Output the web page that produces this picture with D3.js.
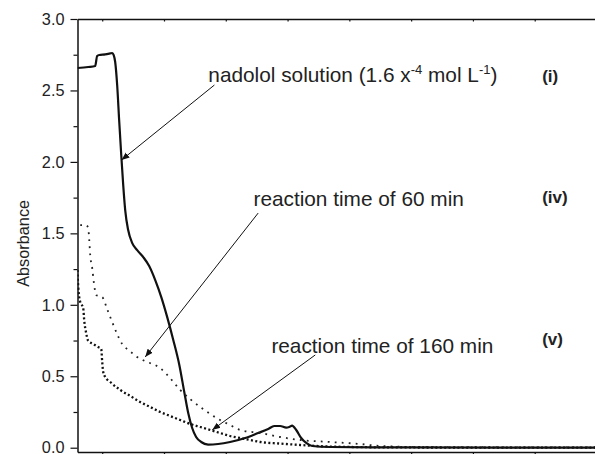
<!DOCTYPE html>
<html>
<head>
<meta charset="utf-8">
<script src="https://cdn.jsdelivr.net/npm/d3@7"></script>
<style>
  body { margin: 0; background: #fff; }
  svg { display: block; font-family: "Liberation Sans", Arial, sans-serif; }
  .tick text { fill: #222; }
</style>
</head>
<body>
<svg id="chart" width="595" height="454"></svg>
<script>
// Spectra: [wavelength (nm), absorbance]
const nadolol = [
  [230, 2.657], [238.7, 2.664], [244.3, 2.671], [245.9, 2.741], [247.6, 2.748],
  [252.4, 2.752], [256.5, 2.759], [258.1, 2.762], [259.3, 2.748], [260.5, 2.699],
  [262.1, 2.538], [263.7, 2.293], [265.4, 2.048], [267.0, 1.838], [268.6, 1.663],
  [271.0, 1.523], [274.3, 1.432], [278.3, 1.383], [283.2, 1.334], [288.0, 1.271],
  [292.9, 1.173], [297.8, 1.054], [302.6, 0.914], [307.5, 0.754], [312.4, 0.579],
  [316.4, 0.390], [319.6, 0.243], [322.8, 0.138], [326.0, 0.075], [330.1, 0.040],
  [335.7, 0.022], [343.8, 0.026], [353.5, 0.040], [365.7, 0.068], [376.2, 0.103],
  [384.3, 0.131], [389.2, 0.152], [394.0, 0.152], [398.9, 0.141], [401.3, 0.145],
  [403.7, 0.155], [407.0, 0.124], [411.0, 0.068], [415.1, 0.033], [419.9, 0.012],
  [434.5, 0.005], [491.1, 0.002], [650, 0.0]
];

const time60 = [
  [232.2, 1.558], [237.0, 1.558], [238.7, 1.537], [239.5, 1.453], [240.3, 1.348],
  [241.9, 1.257], [243.5, 1.138], [245.1, 1.068], [250.0, 1.054], [254.0, 0.970],
  [258.1, 0.879], [262.1, 0.795], [266.2, 0.725], [270.2, 0.690], [274.3, 0.662],
  [278.3, 0.634], [284.8, 0.606], [296.9, 0.557], [305.0, 0.487], [313.1, 0.404],
  [321.2, 0.340], [329.3, 0.285], [337.4, 0.236], [345.4, 0.194], [353.5, 0.159],
  [361.6, 0.124], [377.8, 0.103], [394.0, 0.075], [410.2, 0.054], [434.5, 0.040],
  [458.7, 0.026], [474.9, 0.012], [507.3, 0.005], [650, 0.002]
];

const time160 = [
  [230, 1.244], [230.6, 1.124], [232.2, 1.020], [234.6, 0.978], [235.4, 0.894],
  [237.0, 0.803], [238.7, 0.747], [242.7, 0.726], [246.7, 0.705], [249.2, 0.691],
  [250.0, 0.600], [250.8, 0.530], [252.4, 0.495], [256.5, 0.460], [264.6, 0.404],
  [272.7, 0.362], [280.7, 0.320], [288.8, 0.285], [296.9, 0.250], [305.0, 0.222],
  [313.1, 0.194], [321.2, 0.166], [329.3, 0.145], [337.4, 0.124], [345.4, 0.103],
  [353.5, 0.082], [361.6, 0.068], [369.7, 0.054], [377.8, 0.040], [394.0, 0.029],
  [410.2, 0.019], [434.5, 0.008], [491.1, 0.002], [650, 0.0]
];

const yTicks = [0, 0.5, 1.0, 1.5, 2.0, 2.5, 3.0];
const yMinorTicks = [0.25, 0.75, 1.25, 1.75, 2.25, 2.75];
const xTicks = [250, 300, 350, 400, 450, 500, 550, 600];

// Annotation callouts: text anchor and arrow tail/tip, in data units
const calloutLabels = ['nadolol solution (1.6 x', 'reaction time of 60 min', 'reaction time of 160 min'];
const calloutText = [[335.9, 2.559], [372.4, 1.691], [386.9, 0.663]];
const calloutTail = [[340.8, 2.538], [376.2, 1.642], [422.4, 0.649]];
const calloutTip = [[265.6, 2.013], [284.8, 0.635], [339.0, 0.124]];
const romanLabels = ['(i)', '(iv)', '(v)'];
const romanY = [2.559, 1.712, 0.719];

class SpectraChart {
  constructor(svgContainer) {
    this.svg = svgContainer;
    this.init();
  }

  init() {
    // Plot box runs a little past the right edge of the picture (it is cropped there)
    this.margin = { top: 19, left: 77.5 };
    this.width = 519;
    this.height = 433;

    this.chart = this.svg.append('g')
      .attr('transform', `translate(${this.margin.left},${this.margin.top})`);

    this.xScale = d3.scaleLinear().domain([230, 650]).range([0, this.width]);
    this.yScale = d3.scaleLinear().domain([-0.03, 3.0]).range([this.height, 0]);

    this.svg.append('defs').append('clipPath').attr('id', 'plot-clip')
      .append('rect').attr('width', this.width).attr('height', this.height);

    this.svg.select('defs').append('marker')
      .attr('id', 'arrow-head')
      .attr('viewBox', '0 0 10 10')
      .attr('refX', 10).attr('refY', 5)
      .attr('markerWidth', 8).attr('markerHeight', 8)
      .attr('markerUnits', 'userSpaceOnUse')
      .attr('orient', 'auto')
      .append('path').attr('d', 'M0,1 L10,5 L0,9 Z').attr('fill', '#111');

    this.update();
  }

  update() {
    const x = this.xScale;
    const y = this.yScale;

    // Axes
    const yAxis = this.chart.append('g')
      .call(d3.axisLeft(y).tickValues(yTicks).tickFormat(d3.format('.1f'))
        .tickSize(7).tickPadding(6).tickSizeOuter(0));
    yAxis.selectAll('text').style('font-size', '16.3px');

    this.chart.append('g')
      .call(d3.axisLeft(y).tickValues(yMinorTicks).tickFormat('').tickSize(4).tickSizeOuter(0))
      .select('.domain').remove();

    this.chart.append('g')
      .call(d3.axisTop(x).tickValues(xTicks).tickFormat('').tickSize(-2.5).tickSizeOuter(0));

    this.chart.append('g')
      .attr('transform', `translate(0,${this.height})`)
      .call(d3.axisBottom(x).tickValues(xTicks).tickFormat('').tickSize(5).tickSizeOuter(0));

    this.chart.selectAll('.domain').attr('stroke', '#111').attr('stroke-width', 1.5);
    this.chart.selectAll('.tick line').attr('stroke', '#111').attr('stroke-width', 1.2);

    this.svg.append('text')
      .attr('transform', `translate(28.5,${this.margin.top + y(1.5) + 10}) rotate(-90)`)
      .attr('text-anchor', 'middle')
      .style('font-size', '16.3px')
      .attr('fill', '#222')
      .text('Absorbance');

    // Spectra
    const line = d3.line().x(d => x(d[0])).y(d => y(d[1])).curve(d3.curveMonotoneX);
    const plot = this.chart.append('g').attr('clip-path', 'url(#plot-clip)');

    plot.append('path').datum(nadolol)
      .attr('d', line).attr('fill', 'none')
      .attr('stroke', '#111').attr('stroke-width', 2.2);

    plot.append('path').datum(time60)
      .attr('d', line).attr('fill', 'none')
      .attr('stroke', '#222').attr('stroke-width', 1.8)
      .attr('stroke-dasharray', '1.8,5.2');

    plot.append('path').datum(time160)
      .attr('d', line).attr('fill', 'none')
      .attr('stroke', '#111').attr('stroke-width', 2.3)
      .attr('stroke-dasharray', '2,2.4');

    // Callout arrows
    calloutTail.forEach((d, i) => {
      this.chart.append('line')
        .attr('x1', x(d[0])).attr('y1', y(d[1]))
        .attr('x2', x(calloutTip[i][0])).attr('y2', y(calloutTip[i][1]))
        .attr('stroke', '#111').attr('stroke-width', 1)
        .attr('marker-end', 'url(#arrow-head)');
    });

    // Callout texts
    calloutLabels.forEach((label, i) => {
      const t = this.chart.append('text')
        .attr('x', x(calloutText[i][0])).attr('y', y(calloutText[i][1]))
        .style('font-size', '20.8px')
        .attr('fill', '#222')
        .text(label);
      if (i === 0) {
        // superscripts for the concentration unit
        t.append('tspan').attr('dy', -8).style('font-size', '13px').text('-4');
        t.append('tspan').attr('dy', 8).text(' mol L');
        t.append('tspan').attr('dy', -8).style('font-size', '13px').text('-1');
        t.append('tspan').attr('dy', 8).text(')');
      }
    });

    romanLabels.forEach((label, i) => {
      this.chart.append('text')
        .attr('x', x(606)).attr('y', y(romanY[i]))
        .style('font-size', '17px').style('font-weight', 'bold')
        .attr('fill', '#222')
        .text(label);
    });
  }
}

new SpectraChart(d3.select('#chart'));
</script>
</body>
</html>
